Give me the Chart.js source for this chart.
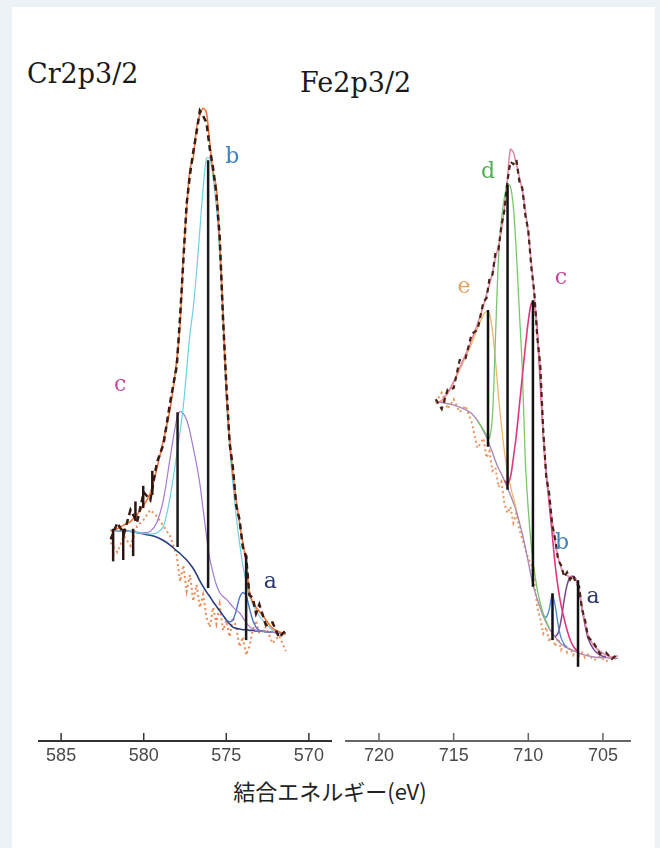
<!DOCTYPE html>
<html>
<head>
<meta charset="utf-8">
<script src="https://cdn.jsdelivr.net/npm/chart.js@4.4.1/dist/chart.umd.min.js"></script>
<style>
  body { margin: 0; width: 660px; height: 848px; overflow: hidden; position: relative; background: #edf2f7; }
  #card { position: absolute; left: 12px; top: 7px; width: 643px; height: 841px; background: #fff; }
  .title { position: absolute; font-family: "DejaVu Serif", serif; font-size: 27px; color: #1a1a1a; }
  .panel { position: absolute; top: 90px; height: 676px; }
  #crBox { left: 38px; width: 294px; }
  #feBox { left: 345px; width: 286px; }
  #xTitle { position: absolute; left: 0; top: 774px; width: 660px; text-align: center;
            font-family: "Noto Sans CJK JP", sans-serif; font-size: 22px; color: #222; }
</style>
</head>
<body>
<div id="card"></div>
<div class="title" style="left:27px;top:58px;">Cr2p3/2</div>
<div class="title" style="left:300px;top:67px;">Fe2p3/2</div>
<div class="panel" id="crBox"><canvas id="crChart"></canvas></div>
<div class="panel" id="feBox"><canvas id="feChart"></canvas></div>
<div id="xTitle">結合エネルギー(eV)</div>

<script>
// ---- Cr2p3/2 (binding energy in eV, intensity in arbitrary units) ----
const crEnergy = [582.0, 581.6, 581.2, 580.8, 580.4, 580.0, 579.6, 579.2, 578.8, 578.4,
                  578.0, 577.8, 577.6, 577.4, 577.2, 577.0, 576.8, 576.6, 576.4, 576.2,
                  576.0, 575.8, 575.6, 575.4, 575.2, 575.0, 574.8, 574.6, 574.4, 574.2,
                  574.0, 573.8, 573.6, 573.4, 573.2, 573.0, 572.6, 572.2, 571.8, 571.4];
const crMeasured = [31.0, 33.5, 31.8, 35.5, 33.6, 38.2, 37.0, 42.8, 45.6, 52.0,
                    57.6, 65.0, 73.8, 82.5, 87.0, 90.5, 93.5, 96.8, 96.0, 95.0,
                    91.0, 88.0, 84.0, 77.5, 65.0, 54.8, 45.8, 42.0, 36.2, 34.0,
                    29.8, 28.3, 22.4, 22.0, 19.6, 21.0, 17.8, 18.2, 15.9, 17.0];
const crFit = [32.2, 32.6, 33.2, 33.7, 34.8, 36.2, 38.1, 41.9, 46.3, 51.0,
               58.5, 64.0, 74.5, 81.8, 87.8, 89.7, 94.2, 96.2, 97.2, 96.5,
               91.8, 87.4, 85.0, 76.5, 66.0, 53.9, 46.5, 41.2, 37.0, 33.5,
               30.5, 27.5, 23.0, 21.3, 20.5, 19.9, 18.6, 17.3, 16.8, 16.4];
const crBackground = [32.4, 32.3, 32.3, 32.2, 32.0, 31.8, 31.6, 31.3, 30.8, 30.1,
                      29.2, 28.8, 28.3, 27.8, 27.2, 26.5, 25.6, 24.6, 23.7, 22.9,
                      22.2, 21.4, 20.7, 20.0, 19.3, 18.6, 18.0, 17.5, 17.3, 17.2,
                      17.1, 17.1, 17.0, 17.0, 16.9, 16.9, 16.8, 16.7, 16.6, 16.6];
const crPeakB = [32.4, 32.3, 32.3, 32.2, 32.0, 31.9, 31.8, 32.0, 33.0, 37.5,
                 44.0, 47.5, 51.5, 57.0, 62.5, 66.5, 72.0, 78.5, 85.0, 89.5,
                 89.5, 86.5, 82.0, 75.0, 64.5, 53.0, 45.0, 39.5, 34.5, 30.5,
                 27.0, 24.5, 22.5, 21.0, 20.0, 19.2, 18.0, 17.0, 16.7, 16.6];
const crPeakC = [32.4, 32.3, 32.3, 32.2, 32.1, 32.0, 32.2, 33.6, 37.2, 43.5,
                 49.5, 50.6, 50.3, 49.3, 47.5, 45.0, 42.5, 39.5, 35.5, 31.5,
                 28.0, 25.8, 24.0, 22.8, 22.2, 21.8, 21.2, 20.6, 20.1, 19.7,
                 19.0, 18.2, 17.6, 17.2, 17.0, 16.9, 16.8, 16.7, 16.6, 16.6];
const crPeakA = [null, null, null, null, null, null, null, null, null, null,
                 null, null, null, null, null, null, null, null, null, null,
                 null, null, null, null, null, 18.6, 18.3, 18.6, 20.0, 22.0,
                 22.8, 22.3, 20.4, 18.6, 17.5, 17.0, 16.8, null, null, null];
const crResidual = [30.5, 29.0, 31.5, 30.0, 33.0, 34.0, 35.5, 34.5, 33.0, 31.5,
                    28.5, 24.5, 27.0, 23.0, 25.5, 21.5, 24.0, 20.5, 22.5, 19.0,
                    17.5, 20.5, 18.0, 21.0, 17.0, 18.5, 16.0, 19.0, 17.5, 14.5,
                    16.0, 13.2, 14.5, 17.0, 18.5, 16.5, 17.5, 15.0, 16.2, 13.8];
const crStickEnergy = [577.95, 576.1, 573.8];
const crStickTop = [50.5, 89.2, 28.6];
const crStickBase = [29.8, 23.5, 15.5];
const crNoiseEnergy = [581.85, 581.24, 580.64, 580.5, 580.03, 579.48];
const crNoiseTop = [32.6, 32.6, 32.6, 36.8, 39.2, 41.5];
const crNoiseBase = [27.6, 27.8, 28.4, 33.8, 35.8, 37.8];
const crLabels = ["b", "c", "a"];
const crLabelEnergy = [574.64, 581.42, 572.33];
const crLabelIntensity = [89.7, 54.7, 24.4];
const crTicks = [585, 580, 575, 570];

// ---- Fe2p3/2 ----
const feEnergy = [716.2, 715.8, 715.4, 715.0, 714.6, 714.2, 713.8, 713.4, 713.0, 712.8,
                  712.6, 712.4, 712.2, 712.0, 711.8, 711.6, 711.4, 711.2, 711.0, 710.8,
                  710.6, 710.4, 710.2, 710.0, 709.8, 709.6, 709.4, 709.2, 709.0, 708.8,
                  708.6, 708.4, 708.2, 708.0, 707.8, 707.6, 707.4, 707.2, 707.0, 706.8,
                  706.6, 706.4, 706.2, 706.0, 705.6, 705.2, 704.8, 704.4, 704.0];
const feMeasured = [52.5, 51.0, 54.0, 54.2, 58.5, 58.8, 62.5, 63.2, 67.5, 68.0,
                    71.0, 71.6, 75.0, 75.5, 79.2, 81.5, 86.0, 89.0, 88.6, 89.3,
                    86.0, 84.9, 80.8, 78.4, 72.8, 69.0, 62.0, 57.8, 47.8, 40.6,
                    38.0, 33.3, 31.0, 27.8, 27.0, 25.2, 25.9, 24.8, 25.5, 24.2,
                    23.8, 20.2, 18.6, 16.0, 15.0, 13.4, 13.6, 12.6, 13.4];
const feFit = [51.8, 52.3, 53.5, 55.2, 57.3, 59.4, 61.6, 64.1, 66.9, 68.6,
               70.1, 72.0, 74.2, 76.0, 78.5, 81.8, 86.3, 90.9, 90.4, 88.6,
               86.6, 84.6, 81.5, 78.0, 73.5, 68.5, 62.6, 57.2, 47.2, 41.3,
               37.5, 33.8, 30.6, 28.2, 26.6, 25.7, 25.4, 25.2, 25.0, 24.8,
               23.4, 20.6, 18.2, 16.3, 14.6, 13.8, 13.2, 12.9, 13.1];
const feBackground = [52.0, 52.0, 51.8, 51.6, 51.3, 50.9, 50.3, 49.2, 47.6, 46.7,
                      45.5, 44.3, 43.0, 41.9, 41.0, 40.0, 38.9, 37.8, 36.6, 35.3,
                      33.6, 31.8, 29.7, 27.5, 25.2, 23.3, 21.8, 20.4, 19.2, 18.2,
                      17.3, 16.6, 16.0, 15.4, 14.9, 14.6, 14.3, 14.1, 13.9, 13.7,
                      13.5, 13.3, 13.2, 13.1, 12.9, 12.8, 12.8, 12.7, 12.7];
const fePeakE = [52.0, 52.3, 53.4, 55.0, 57.0, 59.0, 61.0, 63.4, 65.5, 66.0,
                 65.6, 63.0, 58.5, 53.0, 48.5, 44.5, 41.5, 39.2, 37.3, 35.6,
                 null, null, null, null, null, null, null, null, null, null,
                 null, null, null, null, null, null, null, null, null, null,
                 null, null, null, null, null, null, null, null, null];
const fePeakD = [null, null, null, null, null, null, null, 49.2, 47.8, 47.0,
                 46.5, 50.0, 62.0, 74.0, 80.0, 83.5, 85.5, 85.2, 82.0, 75.0,
                 66.0, 57.0, 43.0, 35.5, 30.0, 26.2, 23.3, 21.2, 19.6, 18.4,
                 17.4, null, null, null, null, null, null, null, null, null,
                 null, null, null, null, null, null, null, null, null];
const fePeakC = [null, null, null, null, null, null, null, null, null, null,
                 null, null, null, null, null, 40.0, 39.5, 40.5, 43.5, 47.0,
                 51.5, 56.0, 60.5, 64.5, 67.2, 67.5, 63.0, 55.0, 47.0, 41.0,
                 36.5, 31.8, 27.0, 23.5, 20.8, 18.8, 17.0, 15.6, 14.6, 14.0,
                 13.6, null, null, null, null, null, null, null, null];
const fePeakB = [null, null, null, null, null, null, null, null, null, null,
                 null, null, null, null, null, null, null, null, null, null,
                 null, null, null, null, null, null, null, null, 19.3, 19.0,
                 20.2, 22.5, 20.8, 17.8, 15.8, 14.9, 14.4, null, null, null,
                 null, null, null, null, null, null, null, null, null];
const fePeakA = [null, null, null, null, null, null, null, null, null, null,
                 null, null, null, null, null, null, null, null, null, null,
                 null, null, null, null, null, null, null, null, null, null,
                 null, null, 16.0, 16.6, 18.6, 21.6, 24.0, 25.2, 25.3, 24.8,
                 23.0, 20.3, 17.8, 15.8, 14.0, 13.2, 12.9, null, null];
const feResidual = [52.0, 53.5, 51.0, 52.5, 50.5, 51.5, 49.0, 45.0, 46.5, 43.5,
                    44.5, 41.5, 42.0, 39.0, 39.8, 36.5, 35.0, 36.0, 33.5, 35.0,
                    32.5, 31.0, 29.5, 28.0, 27.2, 24.5, 20.5, 18.8, 16.5, 17.5,
                    15.2, 16.4, 14.5, 15.8, 14.0, 15.0, 13.6, 14.3, 13.2, 13.9,
                    13.1, 13.6, 12.8, 13.3, 12.4, 13.0, 12.2, 12.9, 12.5];
const feStickEnergy = [712.70, 711.39, 709.69, 708.38, 706.67];
const feStickTop = [66.2, 85.4, 67.7, 22.7, 24.7];
const feStickBase = [45.2, 38.6, 23.7, 15.5, 11.4];
const feLabels = ["d", "e", "c", "b", "a"];
const feLabelEnergy = [712.70, 714.31, 707.81, 707.74, 705.67];
const feLabelIntensity = [87.4, 69.7, 71.1, 30.4, 22.1];
const feTicks = [720, 715, 710, 705];

const labelColors = { a: "#2c3a6e", b: "#3f7fc4", c: "#c8449a", d: "#4caf50", e: "#e8a060" };

// pair an energy grid with a series of intensities
function pts(energy, values) {
  return energy.map((e, i) => ({ x: e, y: values[i] }));
}

function curve(energy, values, color, width, extra) {
  return Object.assign({
    data: pts(energy, values),
    borderColor: color,
    borderWidth: width,
    pointRadius: 0,
    tension: 0.3,
    spanGaps: false,
    fill: false
  }, extra || {});
}

function sticks(energy, top, base, color, width) {
  return energy.map((e, i) => ({
    data: [{ x: e, y: base[i] }, { x: e, y: top[i] }],
    borderColor: color,
    borderWidth: width,
    pointRadius: 0,
    fill: false
  }));
}

// ticks drawn upward from the axis line, like the original scan
const upTicks = {
  id: "upTicks",
  afterDraw(chart) {
    const s = chart.scales.x;
    const ctx = chart.ctx;
    ctx.save();
    ctx.strokeStyle = chart.options.scales.x.border.color;
    ctx.lineWidth = 1.5;
    s.ticks.forEach(t => {
      const px = s.getPixelForValue(t.value);
      ctx.beginPath();
      ctx.moveTo(px, s.top);
      ctx.lineTo(px, s.top - 8);
      ctx.stroke();
    });
    ctx.restore();
  }
};

function peakLabels(texts, energy, intensity) {
  return {
    id: "peakLabels",
    afterDatasetsDraw(chart) {
      const ctx = chart.ctx;
      ctx.save();
      ctx.font = '22px "DejaVu Serif", serif';
      ctx.textAlign = "center";
      ctx.textBaseline = "middle";
      texts.forEach((t, i) => {
        ctx.fillStyle = labelColors[t];
        ctx.fillText(t, chart.scales.x.getPixelForValue(energy[i]), chart.scales.y.getPixelForValue(intensity[i]));
      });
      ctx.restore();
    }
  };
}

function makePanel(id, datasets, xmin, xmax, tickValues, axisColor, labelPlugin) {
  new Chart(document.getElementById(id), {
    type: "line",
    data: { datasets: datasets },
    options: {
      responsive: true,
      maintainAspectRatio: false,
      animation: false,
      layout: { padding: 0 },
      plugins: { legend: { display: false }, tooltip: { enabled: false } },
      scales: {
        x: {
          type: "linear",
          reverse: true,
          min: xmin,
          max: xmax,
          afterBuildTicks: scale => { scale.ticks = tickValues.map(v => ({ value: v })); },
          afterFit: scale => { scale.height = 25; },
          ticks: { color: "#4a4a4a", padding: 4, maxRotation: 0,
                   font: { family: '"Liberation Sans", Arial, sans-serif', size: 18 } },
          grid: { drawOnChartArea: false, drawTicks: false },
          border: { display: true, color: axisColor, width: 2 }
        },
        y: { display: false, min: 0, max: 100 }
      }
    },
    plugins: [upTicks, labelPlugin]
  });
}

// Cr panel, first dataset is drawn on top
const crSets = [].concat(
  sticks(crStickEnergy, crStickTop, crStickBase, "#1a1a1a", 2.5),
  sticks(crNoiseEnergy, crNoiseTop, crNoiseBase, "#2a1510", 2.5),
  [
    curve(crEnergy, crMeasured, "#3a1a12", 2.5, { tension: 0, borderDash: [6, 4] }),
    curve(crEnergy, crFit, "#f0743a", 1.6),
    curve(crEnergy, crPeakB, "#6fd0e6", 1.2),
    curve(crEnergy, crPeakC, "#a37ad6", 1.2),
    curve(crEnergy, crPeakA, "#4a72c8", 1.4),
    curve(crEnergy, crBackground, "#2c3f82", 1.6),
    curve(crEnergy, crResidual, "#ec8a55", 2, { tension: 0, borderDash: [2, 3] })
  ]
);
makePanel("crChart", crSets, 568.6, 586.4, crTicks, "#333",
          peakLabels(crLabels, crLabelEnergy, crLabelIntensity));

// Fe panel
const feSets = [].concat(
  sticks(feStickEnergy, feStickTop, feStickBase, "#111", 2.5),
  [
    curve(feEnergy, feMeasured, "#4a2418", 2.2, { tension: 0, borderDash: [5, 4] }),
    curve(feEnergy, feFit, "#e58aa8", 1.6),
    curve(feEnergy, fePeakC, "#e0367e", 1.6),
    curve(feEnergy, fePeakD, "#78c86a", 1.3),
    curve(feEnergy, fePeakE, "#f2b46e", 1.3),
    curve(feEnergy, fePeakB, "#5086d6", 1.3),
    curve(feEnergy, fePeakA, "#7a4a8e", 1.5),
    curve(feEnergy, feBackground, "#a88ab4", 1.4),
    curve(feEnergy, feResidual, "#ec9560", 2, { tension: 0, borderDash: [2, 3] })
  ]
);
makePanel("feChart", feSets, 703.12, 722.28, feTicks, "#666",
          peakLabels(feLabels, feLabelEnergy, feLabelIntensity));
</script>
</body>
</html>
